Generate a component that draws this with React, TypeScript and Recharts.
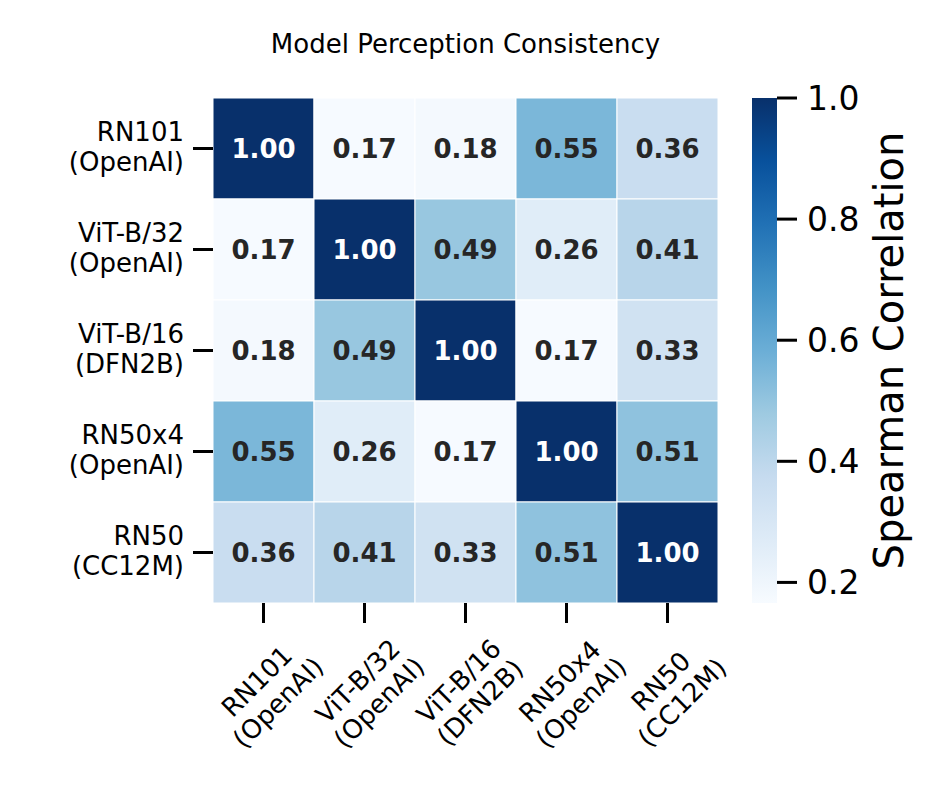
import { ScatterChart, Scatter, XAxis, YAxis, BarChart, Bar } from "recharts";

// heatmap rows / columns
const MODELS = ["RN101", "ViT-B/32", "ViT-B/16", "RN50x4", "RN50"];
const SOURCES = ["(OpenAI)", "(OpenAI)", "(DFN2B)", "(OpenAI)", "(CC12M)"];

// spearman correlation, one array per row
const ROW_RN101 = [1.0, 0.17, 0.18, 0.55, 0.36];
const ROW_VITB32 = [0.17, 1.0, 0.49, 0.26, 0.41];
const ROW_VITB16 = [0.18, 0.49, 1.0, 0.17, 0.33];
const ROW_RN50X4 = [0.55, 0.26, 0.17, 1.0, 0.51];
const ROW_RN50 = [0.36, 0.41, 0.33, 0.51, 1.0];
const MATRIX = [ROW_RN101, ROW_VITB32, ROW_VITB16, ROW_RN50X4, ROW_RN50];

const V_MIN = 0.166;
const V_MAX = 1.0;
const CBAR_TICKS = [0.2, 0.4, 0.6, 0.8, 1.0];
const CELL_TICKS = [0.5, 1.5, 2.5, 3.5, 4.5];

const TITLE = "Model Perception Consistency";
const CBAR_LABEL = "Spearman Correlation";

// matplotlib "Blues"
const BLUES = ["#f7fbff", "#deebf7", "#c6dbef", "#9ecae1", "#6baed6", "#4292c6", "#2171b5", "#08519c", "#08306b"];

const FONT = "DejaVu Sans";
const N = MODELS.length;
const PLOT = 505;
const CELL = PLOT / N;

function hexToRgb(h: string) {
  return [1, 3, 5].map((i) => parseInt(h.slice(i, i + 2), 16));
}

function blues(v: number) {
  let t = (v - V_MIN) / (V_MAX - V_MIN);
  t = Math.max(0, Math.min(1, t));
  const p = t * (BLUES.length - 1);
  const i = Math.min(Math.floor(p), BLUES.length - 2);
  const f = p - i;
  const a = hexToRgb(BLUES[i]);
  const b = hexToRgb(BLUES[i + 1]);
  const c = a.map((av, k) => Math.round(av + (b[k] - av) * f));
  return `rgb(${c[0]},${c[1]},${c[2]})`;
}

const cells = MATRIX.flatMap((row, r) => row.map((v, c) => ({ x: c + 0.5, y: r + 0.5, v })));
const cbarData = [{ name: "cbar", range: [V_MIN, V_MAX] }];

const CellShape = (props: any) => {
  const { cx, cy, payload } = props;
  return (
    <g>
      <rect x={cx - CELL / 2} y={cy - CELL / 2} width={CELL} height={CELL} fill={blues(payload.v)} stroke="#fff" strokeWidth={1} />
      <text x={cx} y={cy} textAnchor="middle" dominantBaseline="central" fontFamily={FONT} fontSize={26} fontWeight="bold"
        fill={payload.v > 0.9 ? "#fff" : "#262626"}>
        {payload.v.toFixed(2)}
      </text>
    </g>
  );
};

const XTick = (props: any) => {
  const { x, y, payload } = props;
  const i = Math.floor(payload.value);
  return (
    <g transform={`translate(${x + 4},${y + 69}) rotate(-45)`}>
      <text x={0} y={-15} textAnchor="middle" dominantBaseline="central" fontFamily={FONT} fontSize={26} fill="#000">{MODELS[i]}</text>
      <text x={0} y={15} textAnchor="middle" dominantBaseline="central" fontFamily={FONT} fontSize={26} fill="#000">{SOURCES[i]}</text>
    </g>
  );
};

const YTick = (props: any) => {
  const { x, y, payload } = props;
  const i = Math.floor(payload.value);
  return (
    <g>
      <text x={x} y={y - 17} textAnchor="end" dominantBaseline="central" fontFamily={FONT} fontSize={26} fill="#000">{MODELS[i]}</text>
      <text x={x} y={y + 13} textAnchor="end" dominantBaseline="central" fontFamily={FONT} fontSize={26} fill="#000">{SOURCES[i]}</text>
    </g>
  );
};

const CbarTick = (props: any) => {
  const { x, y, payload } = props;
  return (
    <text x={x} y={y} textAnchor="start" dominantBaseline="central" fontFamily={FONT} fontSize={33} fill="#000">
      {payload.value.toFixed(1)}
    </text>
  );
};

export default function App() {
  return (
    <div style={{ position: "absolute", left: 0, top: 0, width: 947, height: 789, background: "#fff" }}>
      <svg width={947} height={80} style={{ position: "absolute", left: 0, top: 0 }}>
        <text x={465.5} y={44} textAnchor="middle" dominantBaseline="central" fontFamily={FONT} fontSize={26} fill="#000">{TITLE}</text>
      </svg>

      <div style={{ position: "absolute", left: 0, top: 0 }}>
        <ScatterChart width={947} height={789} margin={{ top: 98, right: 229, bottom: 146, left: 173 }}>
          <XAxis type="number" dataKey="x" domain={[0, N]} ticks={CELL_TICKS} height={40} allowDataOverflow
            axisLine={false} tickSize={20} tickMargin={0} tickLine={{ stroke: "#000", strokeWidth: 3 }} tick={<XTick />} interval={0} />
          <YAxis type="number" dataKey="y" domain={[0, N]} ticks={CELL_TICKS} width={40} reversed allowDataOverflow
            axisLine={false} tickSize={20} tickMargin={9} tickLine={{ stroke: "#000", strokeWidth: 3 }} tick={<YTick />} interval={0} />
          <Scatter data={cells} shape={CellShape} isAnimationActive={false} />
        </ScatterChart>
      </div>

      <div style={{ position: "absolute", left: 740, top: 80 }}>
        <BarChart width={207} height={540} data={cbarData} margin={{ top: 18, right: 50, bottom: 17, left: 12 }} barCategoryGap={0}>
          <defs>
            <linearGradient id="cbarGrad" x1="0" y1="1" x2="0" y2="0">
              {BLUES.map((c, k) => (
                <stop key={k} offset={k / (BLUES.length - 1)} stopColor={c} />
              ))}
            </linearGradient>
          </defs>
          <XAxis type="category" dataKey="name" hide />
          <YAxis orientation="right" type="number" domain={[V_MIN, V_MAX]} ticks={CBAR_TICKS} width={120} allowDataOverflow
            axisLine={false} tickSize={20} tickMargin={10} tickLine={{ stroke: "#000", strokeWidth: 3 }} tick={<CbarTick />} interval={0}
            label={{
              value: CBAR_LABEL,
              content: (p: any) => {
                const vb = p.viewBox;
                const cx = vb.x + 112;
                const cy = vb.y + vb.height / 2;
                return (
                  <text x={cx} y={cy} transform={`rotate(-90, ${cx}, ${cy})`} textAnchor="middle" dominantBaseline="central"
                    fontFamily={FONT} fontSize={40} fill="#000">{CBAR_LABEL}</text>
                );
              },
            }} />
          <Bar dataKey="range" fill="url(#cbarGrad)" isAnimationActive={false} />
        </BarChart>
      </div>
    </div>
  );
}
